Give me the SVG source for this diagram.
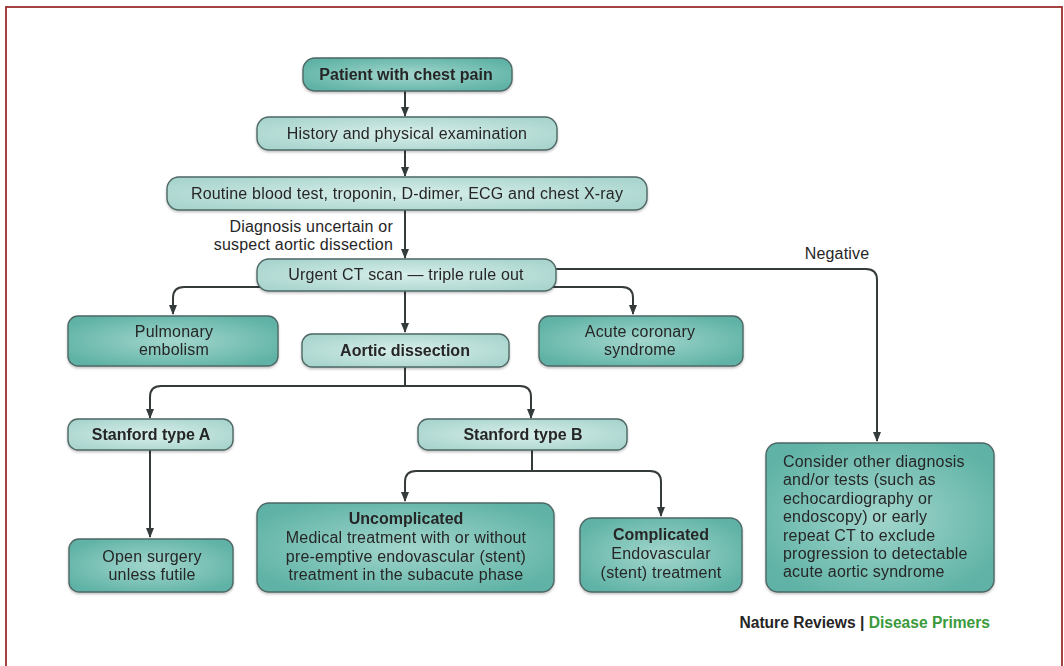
<svg xmlns="http://www.w3.org/2000/svg" width="1064" height="666" viewBox="0 0 1064 666">
<style>
text{font-family:"Liberation Sans",Arial,sans-serif;font-size:16px;letter-spacing:0.2px;fill:#262626;text-anchor:middle}
.b{font-weight:bold;letter-spacing:0}
.l{text-anchor:start}
.r{text-anchor:end}
.lt{fill:url(#gl);stroke:#4e6865;stroke-width:1.4}
.dk{fill:url(#gd);stroke:#4e6865;stroke-width:1.4}
.c{fill:none;stroke:#353a3a;stroke-width:2}
.c path{marker-end:url(#ah)}
.c path.n{marker-end:none}
</style>
<defs>
<radialGradient id="gl" cx="0.5" cy="0.5" r="0.6">
<stop offset="0" stop-color="#d8eeea"/>
<stop offset="1" stop-color="#a9d5ce"/>
</radialGradient>
<radialGradient id="gd" cx="0.5" cy="0.5" r="0.6">
<stop offset="0" stop-color="#a3d6cd"/>
<stop offset="1" stop-color="#5eb2a5"/>
</radialGradient>
<filter id="sh" x="-10%" y="-10%" width="120%" height="130%">
<feDropShadow dx="0" dy="1.5" stdDeviation="1.2" flood-color="#000" flood-opacity="0.25"/>
</filter>
<marker id="ah" markerUnits="userSpaceOnUse" markerWidth="10" markerHeight="8" viewBox="0 0 10 8" refX="9" refY="4" orient="auto">
<path d="M0,0 L10,4 L0,8 Z" fill="#353a3a"/>
</marker>
</defs>
<rect x="6" y="7" width="1056" height="700" fill="#fff" stroke="#9b2f2f" stroke-width="1.8"/>

<g id="connectors" class="c">
<path d="M405,91 V116"/>
<path d="M405,150 V176"/>
<path d="M405,210 V258"/>
<path d="M405,291 V332"/>
<path d="M265,287 H184 Q173,287 173,298 V314"/>
<path d="M550,287 H622 Q633,287 633,298 V314"/>
<path d="M556,269 H866 Q877,269 877,280 V441"/>
<path class="n" d="M405,367 V386"/>
<path d="M405,386 H161 Q150,386 150,397 V418"/>
<path d="M405,386 H520 Q531,386 531,397 V418"/>
<path d="M150,450 V537"/>
<path class="n" d="M532,450 V471"/>
<path d="M532,471 H416 Q405,471 405,482 V501"/>
<path d="M532,471 H650 Q661,471 661,482 V516"/>
</g>

<g id="patient" filter="url(#sh)"><rect class="dk" x="303" y="58" width="209" height="33" rx="12"/><text class="b" x="406" y="80">Patient with chest pain</text></g>
<g id="history" filter="url(#sh)"><rect class="lt" x="257" y="117" width="300" height="33" rx="12"/><text x="407" y="139">History and physical examination</text></g>
<g id="routine" filter="url(#sh)"><rect class="lt" x="167" y="177" width="480" height="33" rx="12"/><text x="407" y="199">Routine blood test, troponin, D-dimer, ECG and chest X-ray</text></g>
<g id="label-diag"><text class="r" x="393" y="232">Diagnosis uncertain or<tspan x="393" dy="18">suspect aortic dissection</tspan></text></g>
<g id="ct" filter="url(#sh)"><rect class="lt" x="257" y="259" width="299" height="32" rx="12"/><text x="406" y="280">Urgent CT scan — triple rule out</text></g>
<g id="label-neg"><text x="837" y="259">Negative</text></g>
<g id="pe" filter="url(#sh)"><rect class="dk" x="68" y="316" width="210" height="50" rx="10"/><text x="174" y="337">Pulmonary<tspan x="174" dy="18">embolism</tspan></text></g>
<g id="ad" filter="url(#sh)"><rect class="lt" x="302" y="334" width="207" height="33" rx="10"/><text class="b" x="405" y="356">Aortic dissection</text></g>
<g id="acs" filter="url(#sh)"><rect class="dk" x="539" y="316" width="204" height="50" rx="10"/><text x="640" y="337">Acute coronary<tspan x="640" dy="18">syndrome</tspan></text></g>
<g id="sa" filter="url(#sh)"><rect class="lt" x="68" y="419" width="165" height="31" rx="10"/><text class="b" x="151" y="440">Stanford type A</text></g>
<g id="sb" filter="url(#sh)"><rect class="lt" x="418" y="419" width="209" height="31" rx="10"/><text class="b" x="523" y="440">Stanford type B</text></g>
<g id="open" filter="url(#sh)"><rect class="dk" x="69" y="539" width="164" height="53" rx="10"/><text x="152" y="562">Open surgery<tspan x="152" dy="18">unless futile</tspan></text></g>
<g id="uncomp" filter="url(#sh)"><rect class="dk" x="257" y="503" width="297" height="89" rx="12"/><text x="406" y="524"><tspan class="b">Uncomplicated</tspan><tspan x="406" dy="19">Medical treatment with or without</tspan><tspan x="406" dy="18.5">pre-emptive endovascular (stent)</tspan><tspan x="406" dy="18.5">treatment in the subacute phase</tspan></text></g>
<g id="comp" filter="url(#sh)"><rect class="dk" x="580" y="518" width="162" height="74" rx="12"/><text x="661" y="540"><tspan class="b">Complicated</tspan><tspan x="661" dy="19">Endovascular</tspan><tspan x="661" dy="19">(stent) treatment</tspan></text></g>
<g id="other" filter="url(#sh)"><rect class="dk" x="766" y="443" width="228" height="149" rx="12"/>
<text class="l" x="783" y="467">Consider other diagnosis<tspan x="783" dy="18">and/or tests (such as</tspan><tspan x="783" dy="18.5">echocardiography or</tspan><tspan x="783" dy="18.5">endoscopy) or early</tspan><tspan x="783" dy="18.5">repeat CT to exclude</tspan><tspan x="783" dy="18.5">progression to detectable</tspan><tspan x="783" dy="18">acute aortic syndrome</tspan></text></g>
<g id="credit"><text class="b r" x="990" y="628" style="font-size:15.6px">Nature Reviews | <tspan fill="#3a9a3c">Disease Primers</tspan></text></g>
</svg>
